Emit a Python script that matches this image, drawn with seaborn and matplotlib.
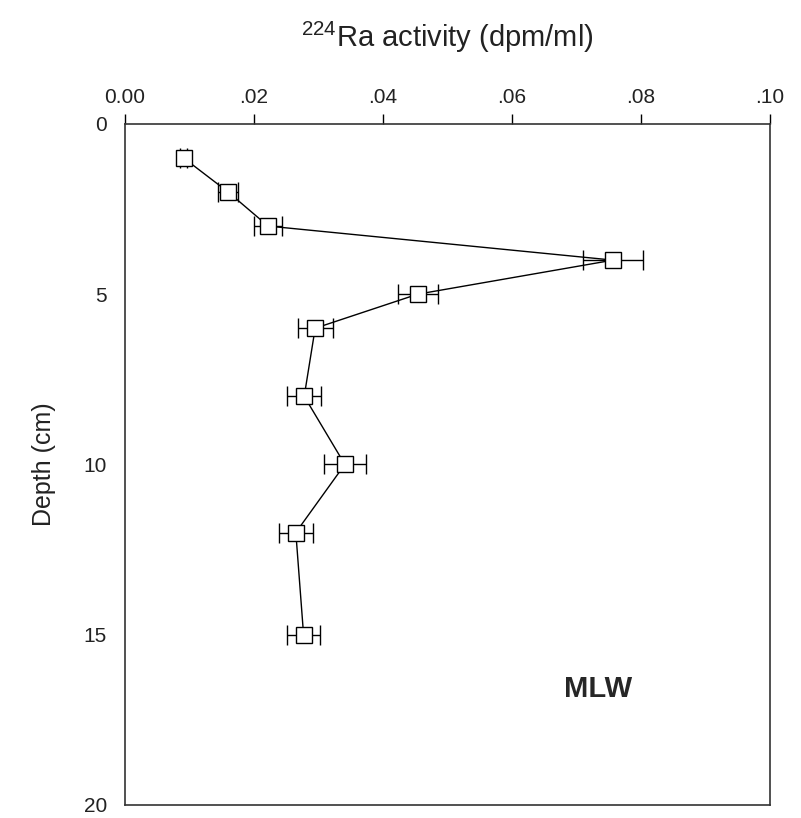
import numpy as np
import matplotlib
matplotlib.use('Agg')
import matplotlib.pyplot as plt
import seaborn as sns

# data
depth = [1, 2, 3, 4, 5, 6, 8, 10, 12, 15]
ra224 = [0.0091, 0.0160, 0.0222, 0.0757, 0.0454, 0.0295, 0.0278, 0.0341, 0.0265, 0.0277]
ra224_err = [0.0005, 0.0016, 0.0022, 0.0047, 0.0031, 0.0027, 0.0026, 0.0033, 0.0026, 0.0026]

x_ticks = [0.0, 0.02, 0.04, 0.06, 0.08, 0.10]
x_ticklabels = ['0.00', '.02', '.04', '.06', '.08', '.10']
y_ticks = [0, 5, 10, 15, 20]

sns.set_style('white')
plt.rcParams['font.family'] = ['Liberation Sans', 'DejaVu Sans']
plt.rcParams['mathtext.fontset'] = 'custom'
plt.rcParams['mathtext.rm'] = 'Liberation Sans'
plt.rcParams['mathtext.it'] = 'Liberation Sans'

fig = plt.figure(figsize=(8.01, 8.18), dpi=100)
ax = fig.add_axes([0.156, 0.016, 0.805, 0.8325])

ax.errorbar(ra224, depth, xerr=ra224_err, fmt='none', ecolor='black',
            elinewidth=1.0, capsize=7, capthick=1.0, zorder=2)
# estimator=None so the two points with nearly equal x are not merged
sns.lineplot(x=ra224, y=depth, sort=False, estimator=None, ax=ax,
             color='black', lw=1.0, marker='s', markersize=11,
             markerfacecolor='white', markeredgecolor='black',
             markeredgewidth=1.0, zorder=3)

ax.set_xlim(0, 0.10)
ax.set_ylim(20, 0)
ax.xaxis.set_ticks_position('top')
ax.xaxis.set_label_position('top')
ax.set_xticks(x_ticks)
ax.set_xticklabels(x_ticklabels)
ax.set_yticks(y_ticks)
ax.tick_params(axis='both', direction='out', length=7, width=1, color='black',
               labelsize=15, colors='#222222', pad=6)
ax.tick_params(axis='x', pad=5)

for s in ax.spines.values():
    s.set_color('#333333')
    s.set_linewidth(1.2)

ax.set_xlabel(r'$^{224}$Ra activity (dpm/ml)', fontsize=21, labelpad=30, color='#222222')
ax.set_ylabel('Depth (cm)', fontsize=18, labelpad=20, color='#222222')

ax.text(0.0733, 16.6, 'MLW', fontsize=21, fontweight='bold', ha='center', va='center')

fig.savefig('out.png', dpi=100)
